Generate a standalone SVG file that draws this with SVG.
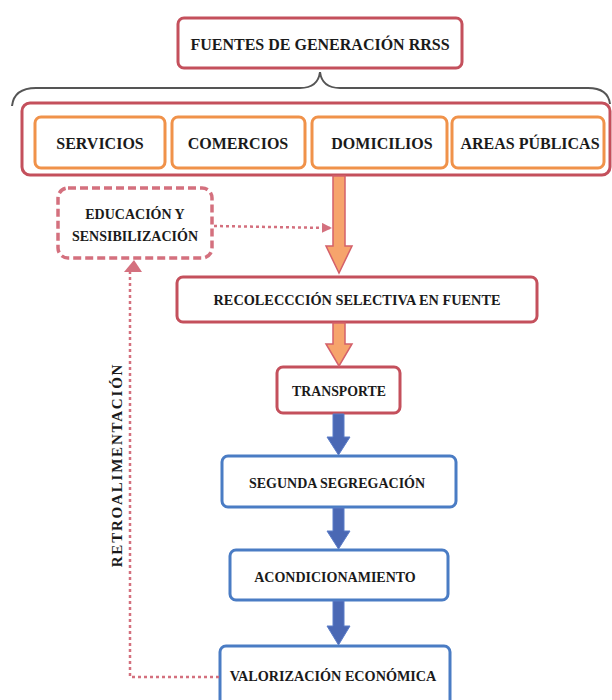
<svg xmlns="http://www.w3.org/2000/svg" width="612" height="700" viewBox="0 0 612 700">
<style>
text{font-family:"Liberation Serif","Times New Roman",serif;font-weight:bold;fill:#1a1a1a;text-anchor:middle;dominant-baseline:central}
.red{fill:#fff;stroke:#c4505c;stroke-width:3}
.org{fill:#fff;stroke:#f0924a;stroke-width:3}
.blu{fill:#fff;stroke:#4a7cc4;stroke-width:3}
.dash{fill:#fff;stroke:#d4707e;stroke-width:3.5;stroke-dasharray:8 4}
.oarr{fill:#f6a46c;stroke:#d4606a;stroke-width:1.5}
.barr{fill:#4a68b4;stroke:#5a7cc8;stroke-width:1}
.dot{fill:none;stroke:#d4707e;stroke-width:2.5;stroke-dasharray:3 3}
</style>
<defs>
<marker id="ah" viewBox="0 0 10 10" refX="8" refY="5" markerWidth="4" markerHeight="4" orient="auto"><path d="M0,0L10,5L0,10z" fill="#d4707e"/></marker>
</defs>
<rect width="612" height="700" fill="#fff"/>
<g id="fuentes"><rect class="red" x="178" y="18" width="284" height="50" rx="6"/><text x="320" y="44" font-size="16">FUENTES DE GENERACIÓN RRSS</text></g>
<g id="brace"><path d="M12,106 Q14,88 36,88 L300,88 Q318,88 320,72 Q322,88 340,88 L588,88 Q608,88 610,104" fill="none" stroke="#555" stroke-width="2"/></g>
<g id="fuentes-grupo"><rect class="red" x="22" y="103" width="588" height="72" rx="8"/></g>
<g id="servicios"><rect class="org" x="35" y="117" width="130" height="51" rx="6"/><text x="100" y="143" font-size="16">SERVICIOS</text></g>
<g id="comercios"><rect class="org" x="172" y="117" width="133" height="51" rx="6"/><text x="238" y="143" font-size="16">COMERCIOS</text></g>
<g id="domicilios"><rect class="org" x="312" y="117" width="135" height="51" rx="6"/><text x="382" y="143" font-size="16">DOMICILIOS</text></g>
<g id="areas"><rect class="org" x="452" y="117" width="152" height="51" rx="6"/><text x="530" y="143" font-size="16">AREAS PÚBLICAS</text></g>
<g id="educacion"><rect class="dash" x="58" y="188" width="154" height="70" rx="10"/><text x="135" y="214" font-size="14">EDUCACIÓN Y</text><text x="135" y="236" font-size="14">SENSIBILIZACIÓN</text></g>
<g id="recoleccion"><rect class="red" x="177" y="277" width="360" height="45" rx="6"/><text x="357" y="300" font-size="14.3">RECOLECCCIÓN SELECTIVA EN FUENTE</text></g>
<g id="transporte"><rect class="red" x="277" y="367" width="123" height="46" rx="6"/><text x="339" y="391" font-size="13.8">TRANSPORTE</text></g>
<g id="segunda"><rect class="blu" x="222" y="456" width="234" height="51" rx="6"/><text x="337" y="483" font-size="14">SEGUNDA SEGREGACIÓN</text></g>
<g id="acondicionamiento"><rect class="blu" x="230" y="550" width="218" height="50" rx="6"/><text x="335" y="577" font-size="14">ACONDICIONAMIENTO</text></g>
<g id="valorizacion"><rect class="blu" x="220" y="646" width="230" height="60" rx="6"/><text x="333" y="676" font-size="14.2">VALORIZACIÓN ECONÓMICA</text></g>
<g id="connectors">
<path class="oarr" d="M333,176 L345,176 L345,246 L352,246 L339,273 L326,246 L333,246 Z"/>
<path class="oarr" d="M333,323 L345,323 L345,344 L352,344 L339,366 L326,344 L333,344 Z"/>
<path class="barr" d="M333,414 L344,414 L344,437 L350,437 L338.5,455 L327,437 L333,437 Z"/>
<path class="barr" d="M333,508 L344,508 L344,531 L350,531 L338.5,549 L327,531 L333,531 Z"/>
<path class="barr" d="M333,601 L344,601 L344,626 L350,626 L338.5,645 L327,626 L333,626 Z"/>
<path class="dot" d="M214,226 L330,228" marker-end="url(#ah)"/>
<path class="dot" d="M219,677 L130,677 L130,270" />
<path d="M124,272 L134,260 L142,272 Z" fill="#d4707e"/>
</g>
<text x="117" y="465" font-size="15" letter-spacing="1.8" transform="rotate(-90 117 465)">RETROALIMENTACIÓN</text>
</svg>
